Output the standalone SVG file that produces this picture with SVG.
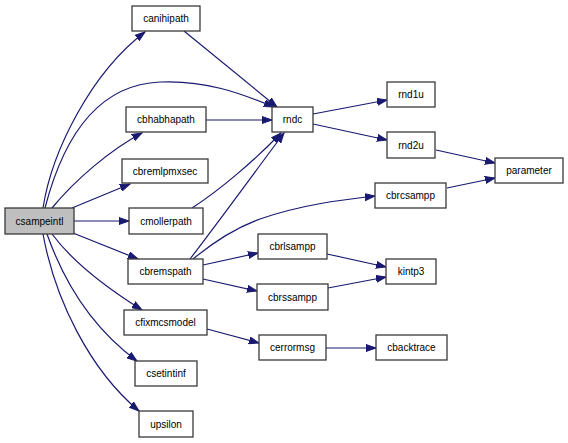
<svg xmlns="http://www.w3.org/2000/svg" width="568" height="443" viewBox="0 0 568 443">
<style>
.n rect{fill:#fff;stroke:#3a3a3a;stroke-width:1.3}
.n text{font-family:"Liberation Sans",Arial,sans-serif;font-size:10px;fill:#000;text-anchor:middle}
.e path{fill:none;stroke:#191970;stroke-width:1.2;marker-end:url(#ah)}
</style>
<defs>
<marker id="ah" markerUnits="userSpaceOnUse" markerWidth="11" markerHeight="8" refX="10" refY="4" orient="auto">
<path d="M0,0.5 L10,4 L0,7.5 z" fill="#191970" stroke="#191970" stroke-width="1"/>
</marker>
</defs>
<rect width="568" height="443" fill="#fff"/>
<g id="edges" class="e">
<path d="M43,208 C52,150 92,72 145,32"/>
<path d="M45,208 C60,150 90,85 160,82 C205,80 240,93 274,107"/>
<path d="M184,31 L277,107"/>
<path d="M206,120 L272,120"/>
<path d="M52,208 C75,180 110,150 142,133"/>
<path d="M72,208 L130,184"/>
<path d="M74,221 L129,221"/>
<path d="M192,208 C220,190 255,160 281,133"/>
<path d="M190,259 C220,220 260,165 284,133"/>
<path d="M193,259 C210,245 235,228 260,219 C300,205 340,200 375,196"/>
<path d="M203,265 L258,253"/>
<path d="M203,279 L257,291"/>
<path d="M327,254 L386,267"/>
<path d="M328,288 L386,277"/>
<path d="M207,329 L259,343"/>
<path d="M326,348 L376,348"/>
<path d="M313,114 L387,100"/>
<path d="M313,124 L387,140"/>
<path d="M436,150 L495,163"/>
<path d="M447,188 L495,178"/>
<path d="M73,233 L138,259"/>
<path d="M52,234 C75,265 110,290 142,310"/>
<path d="M47,234 C65,285 95,330 137,361"/>
<path d="M43,234 C55,300 90,370 139,411"/>
</g>
<g id="csampeintl" class="n"><rect x="5" y="208" width="69" height="26" style="fill:#bfbfbf"/><text x="39.5" y="224.5">csampeintl</text></g>
<g id="canihipath" class="n"><rect x="132" y="6" width="68" height="25"/><text x="166" y="22">canihipath</text></g>
<g id="cbhabhapath" class="n"><rect x="126" y="107" width="80" height="25"/><text x="166" y="123">cbhabhapath</text></g>
<g id="cbremlpmxsec" class="n"><rect x="122" y="159" width="86" height="24"/><text x="165" y="174.5">cbremlpmxsec</text></g>
<g id="cmollerpath" class="n"><rect x="129" y="208" width="74" height="26"/><text x="166" y="224.5">cmollerpath</text></g>
<g id="cbremspath" class="n"><rect x="128" y="259" width="75" height="25"/><text x="165.5" y="275">cbremspath</text></g>
<g id="cfixmcsmodel" class="n"><rect x="124" y="310" width="83" height="25"/><text x="165.5" y="326">cfixmcsmodel</text></g>
<g id="csetintinf" class="n"><rect x="135" y="361" width="62" height="25"/><text x="166" y="377">csetintinf</text></g>
<g id="upsilon" class="n"><rect x="139" y="411" width="54" height="26"/><text x="166" y="427.5">upsilon</text></g>
<g id="rndc" class="n"><rect x="272" y="107" width="41" height="25"/><text x="292.5" y="123">rndc</text></g>
<g id="rnd1u" class="n"><rect x="387" y="82" width="48" height="25"/><text x="411" y="98">rnd1u</text></g>
<g id="rnd2u" class="n"><rect x="387" y="132" width="48" height="26"/><text x="411" y="148.5">rnd2u</text></g>
<g id="parameter" class="n"><rect x="495" y="158" width="68" height="25"/><text x="529" y="174">parameter</text></g>
<g id="cbrcsampp" class="n"><rect x="375" y="183" width="71" height="25"/><text x="410.5" y="199">cbrcsampp</text></g>
<g id="cbrlsampp" class="n"><rect x="258" y="234" width="69" height="25"/><text x="292.5" y="250">cbrlsampp</text></g>
<g id="cbrssampp" class="n"><rect x="257" y="284" width="71" height="26"/><text x="292.5" y="300.5">cbrssampp</text></g>
<g id="kintp3" class="n"><rect x="386" y="259" width="50" height="25"/><text x="411" y="275">kintp3</text></g>
<g id="cerrormsg" class="n"><rect x="259" y="335" width="67" height="25"/><text x="292.5" y="351">cerrormsg</text></g>
<g id="cbacktrace" class="n"><rect x="376" y="335" width="71" height="25"/><text x="411.5" y="351">cbacktrace</text></g>
</svg>
